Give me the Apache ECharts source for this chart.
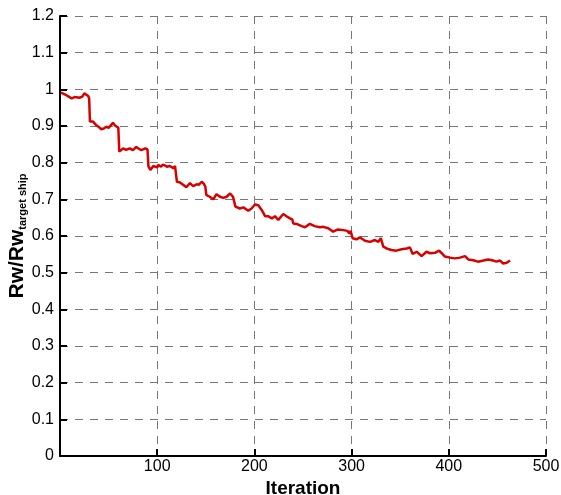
<!DOCTYPE html>
<html>
<head>
    <meta charset="utf-8">
    <title>Rw ratio vs iteration</title>
    <script src="https://cdn.jsdelivr.net/npm/echarts@6/dist/echarts.min.js"></script>
    <style>body{margin:0;background:#fff}</style>
</head>
<body>
    <div id="chart" style="width: 561px; height: 495px;"></div>

    <script>
        // iterations and Rw/Rw_target ship values
        const iterations = [
            1, 3, 6.5, 9, 12, 15, 17, 20, 23, 25, 27, 29, 30, 30.8, 34, 37, 40, 42.5, 45, 47.6,
            50, 52, 54.5, 56, 58, 60, 61, 63, 65, 68, 71.7, 75, 78.5, 81, 83.7, 87.8, 90, 91, 93, 96,
            100, 101, 104, 106, 110, 113, 116.6, 118.3, 119.5, 120.3, 123.5, 127, 130, 133.7, 137, 140.6, 143, 145.8, 148, 149.5,
            150.5, 154, 157.7, 161, 164.6, 168, 171.5, 175, 178, 179.5, 180.5, 185, 188.7, 193.7, 197, 200.6, 204, 207.5, 209.5, 211,
            214, 218, 221, 224.6, 229.7, 233, 236.6, 239, 240, 243.5, 248.6, 252, 257, 262, 267.5, 271, 276, 281, 286, 291.5,
            295.6, 297.6, 299, 301, 305, 308.6, 313.8, 319, 324, 327.5, 330, 332.6, 336, 341, 346, 351.5, 356.7, 360, 362.8, 367,
            372, 377, 380.7, 385.8, 390, 392.7, 396, 401, 406, 411.5, 416.7, 420, 425, 430, 435.5, 440.6, 445.8, 449, 452.7, 456,
            459.6, 463
        ];
        const ratios = [
            0.991, 0.994, 0.984, 0.980, 0.975, 0.979, 0.982, 0.977, 0.980, 0.989, 0.986, 0.982, 0.975, 0.912, 0.912, 0.903, 0.897, 0.891, 0.893, 0.898,
            0.895, 0.897, 0.909, 0.903, 0.898, 0.895, 0.830, 0.828, 0.839, 0.835, 0.839, 0.834, 0.843, 0.838, 0.834, 0.839, 0.836, 0.790, 0.780, 0.791,
            0.787, 0.794, 0.789, 0.795, 0.789, 0.791, 0.785, 0.791, 0.786, 0.748, 0.746, 0.739, 0.733, 0.744, 0.736, 0.741, 0.740, 0.748, 0.742, 0.735,
            0.712, 0.707, 0.700, 0.714, 0.707, 0.704, 0.707, 0.716, 0.707, 0.705, 0.680, 0.675, 0.678, 0.669, 0.675, 0.686, 0.684, 0.671, 0.668, 0.654,
            0.654, 0.648, 0.654, 0.644, 0.660, 0.654, 0.648, 0.645, 0.634, 0.633, 0.627, 0.624, 0.633, 0.627, 0.624, 0.625, 0.621, 0.612, 0.618, 0.616,
            0.614, 0.607, 0.614, 0.594, 0.591, 0.596, 0.587, 0.584, 0.589, 0.584, 0.594, 0.571, 0.566, 0.562, 0.560, 0.564, 0.566, 0.569, 0.551, 0.557,
            0.545, 0.557, 0.553, 0.554, 0.560, 0.553, 0.544, 0.541, 0.539, 0.541, 0.545, 0.536, 0.534, 0.530, 0.533, 0.536, 0.533, 0.530, 0.533, 0.525,
            0.527, 0.533
        ];

        const chart = echarts.init(document.getElementById('chart'));
        const font = 'Liberation Sans, Arial, sans-serif';
        const gridLine = { show: true, lineStyle: { color: '#777', type: [8, 7], width: 1 } };

        chart.setOption({
            animation: false,
            grid: { left: 60, right: 15, top: 16, bottom: 39, containLabel: false, outerBoundsMode: 'none' },
            xAxis: {
                type: 'value',
                min: 0, max: 500, interval: 100,
                name: 'Iteration',
                nameLocation: 'middle',
                nameGap: 23,
                nameMoveOverlap: false,
                nameTextStyle: { fontFamily: font, fontWeight: 'bold', fontSize: 19, color: '#000' },
                axisLine: { lineStyle: { color: '#000', width: 2 } },
                axisTick: { inside: true, length: 7, lineStyle: { color: '#000', width: 2 } },
                axisLabel: {
                    fontFamily: font, fontSize: 16, color: '#000', margin: 3,
                    formatter: v => (v === 0 ? '' : v)
                },
                splitLine: gridLine
            },
            yAxis: {
                type: 'value',
                min: 0, max: 1.2, interval: 0.1,
                name: '{a|Rw/Rw}{b|target ship}',
                nameLocation: 'middle',
                nameRotate: 90,
                nameGap: 32,
                nameMoveOverlap: false,
                nameTextStyle: {
                    rich: {
                        a: { fontFamily: font, fontWeight: 'bold', fontSize: 21, color: '#000' },
                        b: { fontFamily: font, fontWeight: 'bold', fontSize: 11, color: '#000', padding: [10, 0, 0, 0] }
                    }
                },
                axisLine: { lineStyle: { color: '#000', width: 2 } },
                axisTick: { inside: true, length: 7, lineStyle: { color: '#000', width: 2 } },
                axisLabel: { fontFamily: font, fontSize: 16, color: '#000', margin: 6 },
                splitLine: gridLine
            },
            series: [{
                type: 'line',
                data: iterations.map((x, i) => [x, ratios[i]]),
                symbol: 'none',
                lineStyle: { color: '#d90000', width: 2.5 },
                z: 3
            }]
        });
    </script>
</body>
</html>
